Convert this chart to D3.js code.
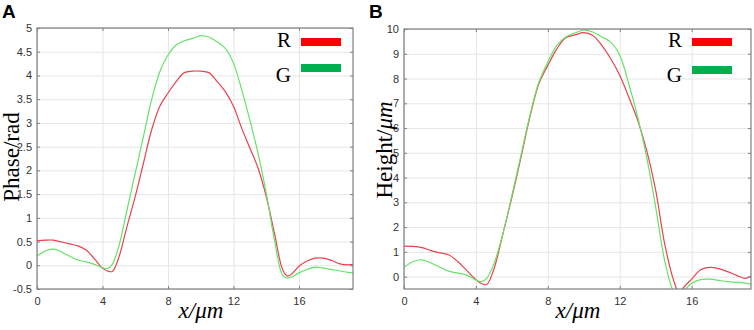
<!DOCTYPE html>
<html lang="en">
<head>
    <meta charset="utf-8"/>
    <title>Phase and height profiles</title>
    <script src="https://d3js.org/d3.v7.min.js"></script>
    <style>
        body { margin: 0; background: #fff; }
        .tick text { font-family: "Liberation Sans", Arial, sans-serif; font-size: 11px; fill: #333; }
        .grid line { stroke: #e6e6e6; }
        .grid path { display: none; }
        .ax path { display: none; }
        .ax line { stroke: #808080; }
    </style>
</head>
<body>
<svg width="754" height="330"></svg>

<script type="text/javascript">

    // datos
    const xs = [0, 0.5, 1, 1.5, 2, 2.5, 3, 3.5, 4, 4.3, 4.6, 5, 5.5, 6, 6.5, 7, 7.5, 8, 8.5, 9, 9.5,
        10, 10.5, 11, 11.5, 12, 12.5, 13, 13.5, 14, 14.5, 15, 15.3, 15.6, 16, 16.5, 17, 17.5, 18, 18.5, 19, 19.3];

    const phaseR = [0.52, 0.53, 0.53, 0.49, 0.45, 0.41, 0.32, 0.14, -0.06, -0.12, -0.13, 0.17, 0.82, 1.45, 2.15,
        2.85, 3.35, 3.63, 3.87, 4.06, 4.09, 4.09, 4.06, 3.87, 3.66, 3.35, 2.89, 2.47, 2.05, 1.45, 0.68,
        -0.09, -0.23, -0.17, -0.02, 0.09, 0.15, 0.15, 0.1, 0.03, 0.01, 0.02];
    const phaseG = [0.19, 0.3, 0.34, 0.28, 0.19, 0.11, 0.07, 0.02, -0.05, -0.07, 0.02, 0.4, 1.17, 1.94, 2.71,
        3.49, 4.08, 4.43, 4.64, 4.73, 4.78, 4.84, 4.81, 4.71, 4.57, 4.26, 3.7, 3.06, 2.36, 1.52, 0.54,
        -0.21, -0.27, -0.24, -0.16, -0.09, -0.04, -0.06, -0.09, -0.12, -0.15, -0.16];

    const heightR = [1.23, 1.22, 1.17, 1.05, 0.96, 0.87, 0.6, 0.24, -0.12, -0.28, -0.32, 0.3, 1.73, 3.2, 4.8,
        6.44, 7.79, 8.53, 9.2, 9.65, 9.76, 9.85, 9.74, 9.34, 8.8, 8.13, 7.25, 6.31, 5.09, 3.48, 1.32,
        -0.16, -0.65, -0.4, -0.1, 0.28, 0.37, 0.32, 0.2, 0.05, -0.07, 0.02];
    const heightG = [0.38, 0.6, 0.68, 0.55, 0.38, 0.22, 0.14, 0.06, -0.14, -0.2, -0.07, 0.51, 1.73, 3.27, 4.89,
        6.5, 7.85, 8.67, 9.34, 9.68, 9.84, 9.95, 9.88, 9.68, 9.47, 8.94, 7.79, 6.44, 4.82, 2.8, 0.65,
        -0.6, -0.75, -0.55, -0.27, -0.12, -0.1, -0.15, -0.2, -0.23, -0.26, -0.3];

    const xTicks = [0, 4, 8, 12, 16];
    const phaseTicks = [-0.5, 0, 0.5, 1, 1.5, 2, 2.5, 3, 3.5, 4, 4.5, 5];
    const heightTicks = [0, 1, 2, 3, 4, 5, 6, 7, 8, 9, 10];
    const seriesNames = ["R", "G"];
    const colorsLine = ["#e8434c", "#66e266"];
    const colorsLegend = ["#ff0000", "#00b050"];

    const svg = d3.select("svg");

    // panel A
    panel({
        id: "A", left: 37, right: 353, top: 28, bottom: 289,
        yDomain: [-0.5, 5], yTicks: phaseTicks, series: [phaseR, phaseG],
        yTitle: "Phase/rad", yTitleX: 19, yTitleY: 157, xTitleX: 201,
        legendBarRight: 341, legendBarTops: [38, 64]
    });

    // panel B
    panel({
        id: "B", left: 404, right: 751, top: 29, bottom: 289,
        yDomain: [-0.5, 10], yTicks: heightTicks, series: [heightR, heightG],
        yTitle: null, yTitleX: 392, yTitleY: 150, xTitleX: 578,
        legendBarRight: 732, legendBarTops: [38, 66]
    });

    function panel(p) {
        const w = p.right - p.left, h = p.bottom - p.top;
        const x = d3.scaleLinear().domain([0, 19.3]).range([p.left, p.right]);
        const y = d3.scaleLinear().domain(p.yDomain).range([p.bottom, p.top]);
        const fmt = d => String(d);

        // letra del panel
        svg.append("text")
            .attr("x", p.left - 35).attr("y", 18)
            .style("font-family", "Liberation Sans, Arial, sans-serif")
            .style("font-weight", "bold").style("font-size", "19px")
            .text(p.id);

        // grilla
        svg.append("g").attr("class", "grid")
            .attr("transform", "translate(0," + p.bottom + ")")
            .call(d3.axisBottom(x).tickValues(xTicks).tickSize(-h).tickFormat(""));
        svg.append("g").attr("class", "grid")
            .attr("transform", "translate(" + p.left + ",0)")
            .call(d3.axisLeft(y).tickValues(p.yTicks).tickSize(-w).tickFormat(""));

        // curvas
        svg.append("clipPath").attr("id", "clip" + p.id)
            .append("rect").attr("x", p.left).attr("y", p.top).attr("width", w).attr("height", h);

        const line = d3.line()
            .x((d, i) => x(xs[i]))
            .y(d => y(d))
            .curve(d3.curveCatmullRom);

        p.series.forEach(function (s, i) {
            svg.append("path")
                .attr("clip-path", "url(#clip" + p.id + ")")
                .attr("d", line(s))
                .attr("fill", "none")
                .attr("stroke", colorsLine[i])
                .attr("stroke-width", 1.2);
        });

        // ejes con ticks hacia adentro
        svg.append("g").attr("class", "ax")
            .attr("transform", "translate(0," + p.bottom + ")")
            .call(d3.axisBottom(x).tickValues(xTicks).tickSize(-3).tickPadding(8).tickFormat(fmt));
        svg.append("g").attr("class", "ax")
            .attr("transform", "translate(0," + p.top + ")")
            .call(d3.axisTop(x).tickValues(xTicks).tickSize(-3).tickFormat(""));
        svg.append("g").attr("class", "ax")
            .attr("transform", "translate(" + p.left + ",0)")
            .call(d3.axisLeft(y).tickValues(p.yTicks).tickSize(-3).tickPadding(5).tickFormat(fmt));
        svg.append("g").attr("class", "ax")
            .attr("transform", "translate(" + p.right + ",0)")
            .call(d3.axisRight(y).tickValues(p.yTicks).tickSize(-3).tickFormat(""));

        svg.append("rect")
            .attr("x", p.left).attr("y", p.top).attr("width", w).attr("height", h)
            .attr("fill", "none").attr("stroke", "#7f7f7f").attr("stroke-width", 1.2);

        // titulo eje x
        svg.append("text")
            .attr("x", p.xTitleX).attr("y", 318)
            .attr("text-anchor", "middle")
            .style("font-family", "Liberation Serif, Times New Roman, serif")
            .style("font-style", "italic").style("font-size", "23px")
            .text("x/μm");

        // titulo eje y
        const yt = svg.append("text")
            .attr("transform", "translate(" + p.yTitleX + "," + p.yTitleY + ") rotate(-90)")
            .attr("text-anchor", "middle")
            .style("font-family", "Liberation Serif, Times New Roman, serif")
            .style("font-size", "23px");
        if (p.yTitle) {
            yt.text(p.yTitle);
        } else {
            yt.append("tspan").text("Height/");
            yt.append("tspan").style("font-style", "italic").text("μm");
        }

        // leyenda
        seriesNames.forEach(function (name, i) {
            const top = p.legendBarTops[i];
            svg.append("rect")
                .attr("x", p.legendBarRight - 40).attr("y", top)
                .attr("width", 40).attr("height", 8)
                .attr("fill", colorsLegend[i]);
            svg.append("text")
                .attr("x", p.legendBarRight - 10 - 40).attr("y", i === 0 ? 47 : 82)
                .attr("text-anchor", "end")
                .style("font-family", "Liberation Serif, Times New Roman, serif")
                .style("font-size", "21px")
                .text(name);
        });
    }

</script>
</body>
</html>
